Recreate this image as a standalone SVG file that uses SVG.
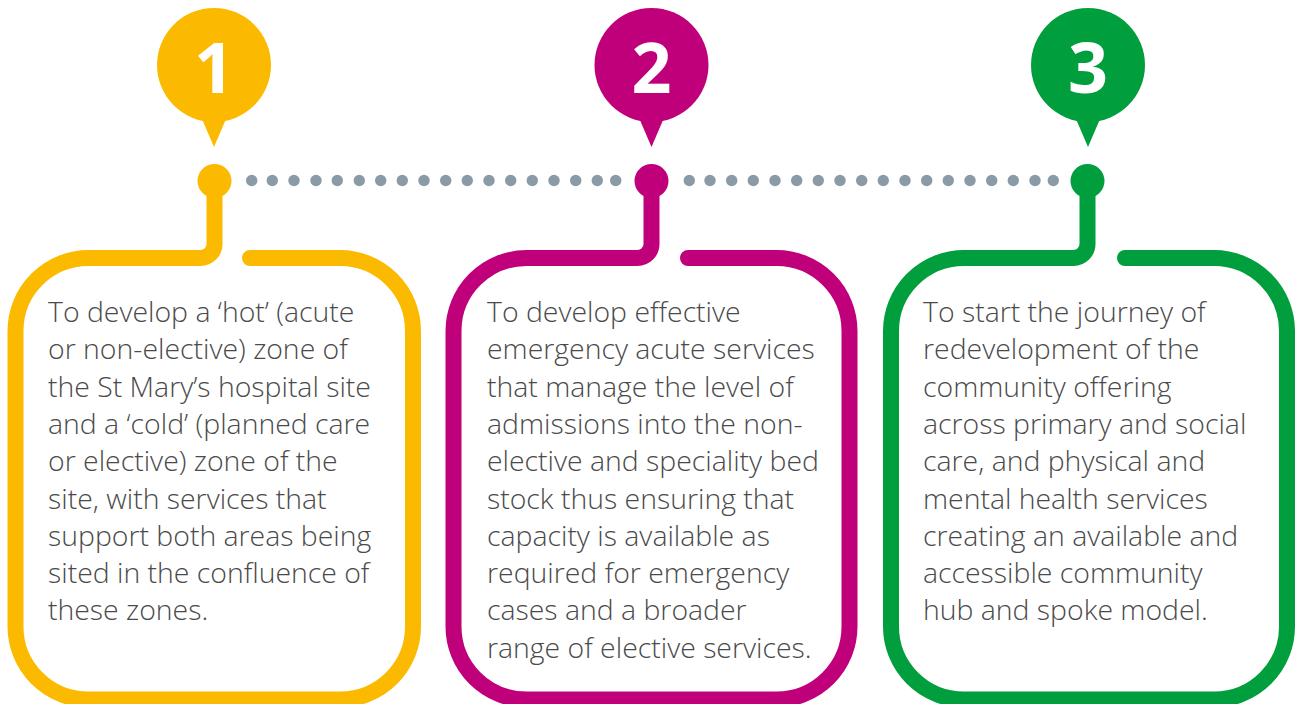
<svg xmlns="http://www.w3.org/2000/svg" width="1295" height="704" viewBox="0 0 1295 704">
  <defs>
    <style>
      .frame { fill: none; stroke-width: 16; stroke-linecap: round; stroke-linejoin: round; }
      .dot { fill: #8A9BA8; }
      .num { font-family: "Open Sans", "Liberation Sans", sans-serif; font-weight: 700; font-size: 70px; fill: #ffffff; text-anchor: middle; }
      .body { font-family: "Open Sans", "Liberation Sans", sans-serif; font-weight: 350; font-size: 28.4px; fill: #4a4a4a; }
      .yellow { fill: #FBBA00; }
      .magenta { fill: #C0007A; }
      .green { fill: #009E3D; }
    </style>
    <!-- map pin: round head with a pointer below -->
    <path id="pin" d="M -18 40 L 18 40 L 0 82 Z"/>
  </defs>
  <rect width="1295" height="704" fill="#ffffff"/>

  <!-- dotted timeline connecting the three steps -->
  <g id="connectors">
    <g class="dot">
      <circle cx="251.7" cy="180.5" r="5.7"/>
      <circle cx="272.3" cy="180.5" r="5.7"/>
      <circle cx="294" cy="180.5" r="5.7"/>
      <circle cx="316" cy="180.5" r="5.7"/>
      <circle cx="337.3" cy="180.5" r="5.7"/>
      <circle cx="359.3" cy="180.5" r="5.7"/>
      <circle cx="380.7" cy="180.5" r="5.7"/>
      <circle cx="402.3" cy="180.5" r="5.7"/>
      <circle cx="424" cy="180.5" r="5.7"/>
      <circle cx="445.7" cy="180.5" r="5.7"/>
      <circle cx="467.3" cy="180.5" r="5.7"/>
      <circle cx="489" cy="180.5" r="5.7"/>
      <circle cx="510.7" cy="180.5" r="5.7"/>
      <circle cx="532.3" cy="180.5" r="5.7"/>
      <circle cx="554" cy="180.5" r="5.7"/>
      <circle cx="575.7" cy="180.5" r="5.7"/>
      <circle cx="597.3" cy="180.5" r="5.7"/>
      <circle cx="615.7" cy="180.5" r="5.7"/>
      <circle cx="689.3" cy="180.5" r="5.7"/>
      <circle cx="710" cy="180.5" r="5.7"/>
      <circle cx="731.7" cy="180.5" r="5.7"/>
      <circle cx="753.3" cy="180.5" r="5.7"/>
      <circle cx="775" cy="180.5" r="5.7"/>
      <circle cx="796.7" cy="180.5" r="5.7"/>
      <circle cx="818.3" cy="180.5" r="5.7"/>
      <circle cx="840" cy="180.5" r="5.7"/>
      <circle cx="861.7" cy="180.5" r="5.7"/>
      <circle cx="883.3" cy="180.5" r="5.7"/>
      <circle cx="905" cy="180.5" r="5.7"/>
      <circle cx="926.7" cy="180.5" r="5.7"/>
      <circle cx="948.3" cy="180.5" r="5.7"/>
      <circle cx="970" cy="180.5" r="5.7"/>
      <circle cx="991.7" cy="180.5" r="5.7"/>
      <circle cx="1013.3" cy="180.5" r="5.7"/>
      <circle cx="1035" cy="180.5" r="5.7"/>
      <circle cx="1053.3" cy="180.5" r="5.7"/>
    </g>
  </g>

  <!-- step 1 -->
  <g id="step1">
    <path class="frame" stroke="#FBBA00" d="M 250 258 H 340 A 73 73 0 0 1 413 331 V 626.5 A 73 73 0 0 1 340 699.5 H 88.5 A 73 73 0 0 1 15.5 626.5 V 331 A 73 73 0 0 1 88.5 258 H 200.5 A 14 14 0 0 0 214.5 244 V 181"/>
    <circle class="yellow" cx="214.5" cy="181" r="17"/>
    <g class="yellow" transform="translate(214 65)">
      <circle r="57"/>
      <use href="#pin"/>
    </g>
    <text class="num" x="214" y="93">1</text>
    <text class="body">
      <tspan x="48" y="322">To develop a ‘hot’ (acute</tspan>
      <tspan x="48" y="359.3">or non-elective) zone of</tspan>
      <tspan x="48" y="396.6">the St Mary’s hospital site</tspan>
      <tspan x="48" y="433.9">and a ‘cold’ (planned care</tspan>
      <tspan x="48" y="471.2">or elective) zone of the</tspan>
      <tspan x="48" y="508.5">site, with services that</tspan>
      <tspan x="48" y="545.8">support both areas being</tspan>
      <tspan x="48" y="583.1">sited in the confluence of</tspan>
      <tspan x="48" y="620.4">these zones.</tspan>
    </text>
  </g>

  <!-- step 2 -->
  <g id="step2">
    <path class="frame" stroke="#C0007A" d="M 688 258 H 776.5 A 73 73 0 0 1 849.5 331 V 626.5 A 73 73 0 0 1 776.5 699.5 H 526.5 A 73 73 0 0 1 453.5 626.5 V 331 A 73 73 0 0 1 526.5 258 H 637.5 A 14 14 0 0 0 651.5 244 V 181"/>
    <circle class="magenta" cx="651.5" cy="181" r="17"/>
    <g class="magenta" transform="translate(651.5 65)">
      <circle r="57"/>
      <use href="#pin"/>
    </g>
    <text class="num" x="651.5" y="93">2</text>
    <text class="body">
      <tspan x="487" y="322">To develop effective</tspan>
      <tspan x="487" y="359.3">emergency acute services</tspan>
      <tspan x="487" y="396.6">that manage the level of</tspan>
      <tspan x="487" y="433.9">admissions into the non-</tspan>
      <tspan x="487" y="471.2">elective and speciality bed</tspan>
      <tspan x="487" y="508.5">stock thus ensuring that</tspan>
      <tspan x="487" y="545.8">capacity is available as</tspan>
      <tspan x="487" y="583.1">required for emergency</tspan>
      <tspan x="487" y="620.4">cases and a broader</tspan>
      <tspan x="487" y="657.7">range of elective services.</tspan>
    </text>
  </g>

  <!-- step 3 -->
  <g id="step3">
    <path class="frame" stroke="#009E3D" d="M 1125 258 H 1214 A 73 73 0 0 1 1287 331 V 626.5 A 73 73 0 0 1 1214 699.5 H 964 A 73 73 0 0 1 891 626.5 V 331 A 73 73 0 0 1 964 258 H 1073.5 A 14 14 0 0 0 1087.5 244 V 181"/>
    <circle class="green" cx="1087.5" cy="181" r="17"/>
    <g class="green" transform="translate(1088 65)">
      <circle r="57"/>
      <use href="#pin"/>
    </g>
    <text class="num" x="1088" y="93">3</text>
    <text class="body">
      <tspan x="923" y="322">To start the journey of</tspan>
      <tspan x="923" y="359.3">redevelopment of the</tspan>
      <tspan x="923" y="396.6">community offering</tspan>
      <tspan x="923" y="433.9">across primary and social</tspan>
      <tspan x="923" y="471.2">care, and physical and</tspan>
      <tspan x="923" y="508.5">mental health services</tspan>
      <tspan x="923" y="545.8">creating an available and</tspan>
      <tspan x="923" y="583.1">accessible community</tspan>
      <tspan x="923" y="620.4">hub and spoke model.</tspan>
    </text>
  </g>
</svg>
